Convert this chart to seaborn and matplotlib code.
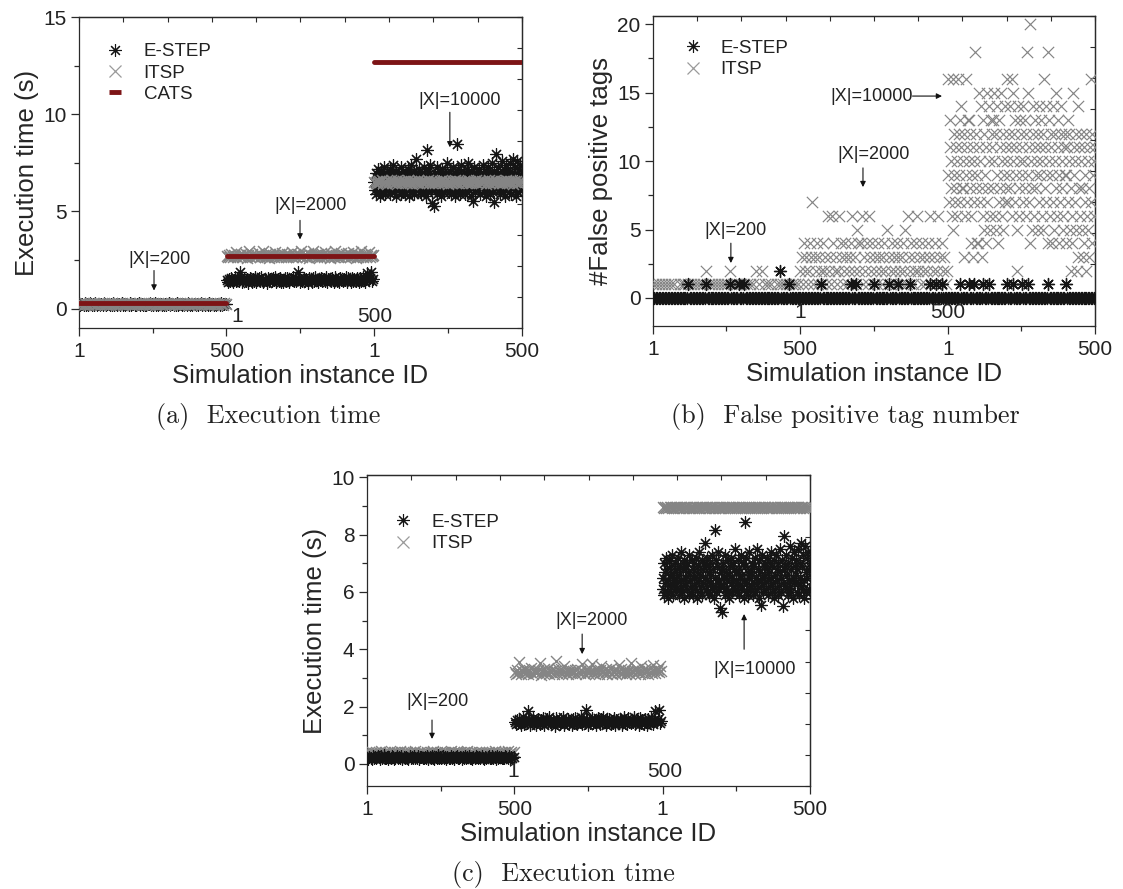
import numpy as np
import pandas as pd
import matplotlib
matplotlib.use("Agg")
import matplotlib.pyplot as plt
from matplotlib.lines import Line2D
import seaborn as sns

# ------------------------------------------------------------------
# Data: three problem sizes (|X| = 200, 2000, 10000), 500 simulation
# instances each, shown back to back on one x axis. Values are listed
# for every 2nd / 4th / 5th / 10th instance (the step is given per block).
# ------------------------------------------------------------------
SEG_LEN = 500
segment_sizes = ["|X|=200", "|X|=2000", "|X|=10000"]
x_tick_pos = [1, 500, 1001, 1500]
x_tick_labels = ["1", "500", "1", "500"]

# E-STEP execution time (s) -- same runs in panels (a) and (c)
estep_time_step = [4, 4, 2]
estep_time_200 = [
    0.21,0.18,0.25,0.22,0.16,0.28,0.2,0.24,0.19,0.27,0.23,0.17,0.26,0.21,0.3,0.19,0.22,0.25,0.18,0.24,0.2,0.27,0.23,0.16,0.22,
    0.26,0.19,0.24,0.21,0.29,0.18,0.23,0.2,0.25,0.22,0.17,0.27,0.21,0.24,0.19,0.26,0.22,0.2,0.28,0.18,0.23,0.25,0.21,0.19,0.24,
    0.22,0.27,0.17,0.23,0.2,0.26,0.21,0.18,0.25,0.22,0.3,0.19,0.24,0.21,0.27,0.2,0.23,0.16,0.25,0.22,0.19,0.26,0.21,0.24,0.18,
    0.23,0.28,0.2,0.22,0.25,0.17,0.24,0.21,0.27,0.19,0.23,0.26,0.2,0.22,0.18,0.25,0.21,0.29,0.23,0.19,0.24,0.2,0.26,0.22,0.17,
    0.25,0.21,0.23,0.28,0.19,0.22,0.26,0.2,0.24,0.18,0.27,0.21,0.23,0.25,0.2,0.22,0.19,0.26,0.24,0.21,0.28,0.18,0.23,0.22,0.25]
estep_time_2000 = [
    1.45,1.38,1.52,1.41,1.58,1.35,1.47,1.62,1.4,1.5,1.43,1.86,1.55,1.37,1.48,1.6,1.42,1.51,1.34,1.46,1.57,1.39,1.53,1.44,1.61,
    1.36,1.49,1.56,1.41,1.63,1.45,1.38,1.54,1.47,1.33,1.59,1.43,1.5,1.4,1.55,1.46,1.64,1.37,1.52,1.44,1.58,1.39,1.48,1.35,1.56,
    1.42,1.6,1.47,1.38,1.53,1.45,1.62,1.4,1.51,1.44,1.88,1.57,1.36,1.49,1.43,1.59,1.41,1.54,1.46,1.34,1.6,1.48,1.39,1.55,1.42,
    1.63,1.45,1.37,1.52,1.47,1.58,1.4,1.5,1.44,1.61,1.36,1.53,1.46,1.41,1.57,1.49,1.35,1.62,1.43,1.54,1.38,1.59,1.47,1.42,1.51,
    1.45,1.64,1.39,1.56,1.48,1.37,1.6,1.44,1.52,1.4,1.58,1.46,1.35,1.55,1.43,1.61,1.49,1.38,1.53,1.84,1.47,1.57,1.87,1.42,1.5]
estep_time_10000 = [
    6.5,6.1,7.0,5.9,6.7,6.3,7.2,6.0,6.8,6.4,5.8,7.1,6.2,6.6,6.9,6.0,7.3,6.4,5.9,6.7,6.2,7.0,6.5,6.1,6.8,
    6.3,7.2,5.9,6.6,6.9,6.1,7.4,6.4,6.0,6.8,6.2,7.1,5.8,6.5,6.9,6.3,7.0,6.1,6.7,5.9,7.3,6.4,6.6,6.0,7.1,
    6.2,6.8,5.9,7.0,6.5,6.1,7.2,6.3,6.7,5.8,6.9,6.4,7.4,6.0,6.6,6.2,7.1,5.9,6.8,6.3,7.0,7.7,6.5,6.1,6.9,
    6.4,7.2,6.0,6.7,5.9,7.0,6.3,6.6,7.3,6.1,6.8,6.2,5.8,8.15,6.5,7.1,6.0,6.9,6.3,7.4,6.4,6.1,5.45,6.2,6.7,
    5.3,6.8,7.0,6.2,6.5,5.9,7.3,6.1,6.7,6.4,7.1,6.0,6.6,5.8,6.9,7.2,6.3,6.5,6.0,7.0,6.2,6.8,7.5,6.1,6.4,
    6.7,6.0,7.1,6.3,5.9,6.8,6.5,7.3,6.1,6.6,6.2,7.0,5.8,6.4,8.45,6.9,6.0,7.2,6.3,6.7,5.9,7.4,6.5,6.1,6.8,
    6.2,7.0,6.6,5.9,6.9,6.3,7.2,6.0,6.5,7.5,6.1,6.8,6.4,5.8,7.1,6.7,5.55,6.2,7.3,6.5,6.0,6.9,6.3,7.0,6.6,
    6.1,6.8,7.2,6.4,5.9,6.7,7.0,6.2,6.5,7.4,6.0,6.9,6.3,5.8,7.1,6.6,6.1,7.3,6.4,6.8,5.9,7.0,6.2,6.7,7.5,
    6.5,6.0,7.1,5.5,6.3,6.8,7.95,6.2,6.9,7.3,6.1,6.6,5.9,7.0,6.4,7.6,6.2,6.8,6.0,7.2,6.5,5.8,7.4,6.3,6.9,
    6.6,7.1,6.0,6.8,7.5,6.3,5.9,7.0,6.5,7.7,6.2,6.9,6.1,7.3,6.4,5.8,7.6,6.7,6.0,7.2,6.5,7.4,6.1,6.8,7.0]

# ITSP execution time (s), panel (a)
itsp_time_a_step = [4, 4, 4]
itsp_time_a_200 = [
    0.25,0.22,0.28,0.24,0.2,0.27,0.23,0.26,0.21,0.29,0.24,0.22,0.27,0.25,0.19,0.26,0.23,0.28,0.21,0.25,0.24,0.3,0.22,0.26,0.23,
    0.27,0.21,0.24,0.29,0.23,0.26,0.2,0.25,0.28,0.22,0.24,0.27,0.21,0.26,0.23,0.3,0.25,0.22,0.28,0.24,0.2,0.26,0.23,0.27,0.25,
    0.22,0.28,0.25,0.21,0.27,0.24,0.29,0.23,0.26,0.2,0.25,0.28,0.22,0.24,0.27,0.21,0.26,0.3,0.23,0.25,0.22,0.27,0.24,0.19,0.26,
    0.24,0.26,0.21,0.28,0.23,0.25,0.27,0.22,0.3,0.24,0.2,0.26,0.23,0.28,0.25,0.22,0.27,0.24,0.21,0.29,0.25,0.23,0.26,0.22,0.28,
    0.26,0.23,0.29,0.21,0.25,0.27,0.22,0.24,0.28,0.2,0.26,0.23,0.25,0.3,0.22,0.27,0.24,0.21,0.26,0.28,0.23,0.25,0.2,0.27,0.24]
itsp_time_a_2000 = [
    2.72,2.65,2.78,2.68,2.81,2.63,2.74,2.7,2.92,2.66,2.77,2.69,2.83,2.64,2.75,2.71,2.8,2.62,2.76,2.95,2.67,2.79,2.7,2.73,2.65,
    2.78,2.69,2.84,2.63,2.74,2.71,2.97,2.66,2.8,2.68,2.75,2.62,2.82,2.7,2.77,2.64,2.93,2.72,2.67,2.79,2.73,2.65,2.86,2.69,2.76,
    2.68,2.81,2.64,2.75,2.7,2.9,2.66,2.78,2.72,2.63,2.83,2.69,2.76,2.96,2.67,2.74,2.8,2.65,2.71,2.85,2.62,2.77,2.7,2.94,2.73,
    2.75,2.63,2.8,2.7,2.67,2.84,2.72,2.65,2.91,2.78,2.69,2.74,2.62,2.82,2.71,2.76,2.66,2.98,2.73,2.68,2.79,2.64,2.85,2.7,2.77,
    2.66,2.79,2.71,2.87,2.64,2.75,2.69,2.93,2.73,2.62,2.81,2.68,2.77,2.7,2.95,2.65,2.74,2.8,2.67,2.72,2.89,2.63,2.76,2.71,2.78]
itsp_time_a_10000 = [
    6.52,6.47,6.58,6.44,6.55,6.5,6.61,6.46,6.53,6.49,6.57,6.43,6.54,6.51,6.6,6.45,6.56,6.48,6.52,6.62,6.46,6.55,6.5,6.44,6.58,
    6.49,6.56,6.45,6.6,6.51,6.47,6.54,6.42,6.58,6.5,6.53,6.46,6.61,6.48,6.55,6.52,6.44,6.57,6.49,6.53,6.6,6.47,6.51,6.56,6.45,
    6.54,6.48,6.59,6.5,6.45,6.57,6.52,6.63,6.46,6.55,6.49,6.53,6.43,6.58,6.51,6.47,6.56,6.5,6.61,6.44,6.54,6.48,6.57,6.52,6.46,
    6.5,6.58,6.46,6.53,6.61,6.48,6.55,6.44,6.52,6.57,6.49,6.6,6.47,6.54,6.5,6.45,6.59,6.51,6.56,6.43,6.53,6.49,6.62,6.47,6.55,
    6.47,6.53,6.6,6.49,6.56,6.44,6.51,6.58,6.46,6.54,6.5,6.62,6.45,6.55,6.48,6.57,6.52,6.43,6.59,6.5,6.56,6.46,6.53,6.61,6.49]

# CATS execution time (s), one value per problem size
cats_time = [0.28, 2.72, 12.7]

# ITSP execution time (s), panel (c)
itsp_time_c_step = [4, 4, 4]
itsp_time_c_200 = [
    0.38,0.34,0.41,0.36,0.43,0.33,0.39,0.37,0.42,0.35,0.4,0.36,0.44,0.34,0.38,0.41,0.35,0.39,0.37,0.43,0.33,0.4,0.36,0.42,0.38,
    0.41,0.35,0.39,0.44,0.36,0.38,0.33,0.42,0.37,0.4,0.34,0.43,0.38,0.36,0.41,0.35,0.45,0.39,0.34,0.37,0.42,0.36,0.4,0.38,0.35,
    0.36,0.42,0.38,0.34,0.4,0.37,0.44,0.35,0.39,0.41,0.33,0.38,0.43,0.36,0.4,0.35,0.42,0.37,0.39,0.34,0.41,0.44,0.36,0.38,0.4,
    0.39,0.37,0.43,0.35,0.41,0.34,0.38,0.42,0.36,0.4,0.44,0.35,0.37,0.41,0.33,0.39,0.36,0.43,0.38,0.35,0.4,0.37,0.42,0.34,0.39,
    0.35,0.4,0.37,0.42,0.34,0.39,0.41,0.36,0.44,0.38,0.35,0.4,0.37,0.33,0.42,0.39,0.36,0.41,0.38,0.45,0.34,0.37,0.4,0.36,0.43]
itsp_time_c_2000 = [
    3.22,3.15,3.28,3.18,3.55,3.12,3.25,3.2,3.31,3.16,3.24,3.13,3.27,3.19,3.33,3.14,3.23,3.29,3.17,3.21,3.26,3.52,3.11,3.24,3.18,
    3.3,3.16,3.22,3.35,3.14,3.25,3.19,3.28,3.12,3.23,3.58,3.17,3.26,3.2,3.32,3.15,3.24,3.42,3.18,3.27,3.13,3.21,3.29,3.16,3.25,
    3.19,3.27,3.14,3.31,3.22,3.17,3.26,3.5,3.2,3.13,3.29,3.24,3.16,3.33,3.21,3.48,3.18,3.25,3.12,3.3,3.23,3.15,3.28,3.4,3.2,
    3.24,3.17,3.3,3.13,3.26,3.21,3.34,3.15,3.23,3.19,3.28,3.12,3.25,3.44,3.18,3.31,3.16,3.22,3.27,3.14,3.2,3.29,3.17,3.53,3.24,
    3.21,3.28,3.15,3.32,3.19,3.25,3.13,3.42,3.23,3.17,3.3,3.2,3.26,3.14,3.34,3.22,3.18,3.45,3.27,3.16,3.24,3.31,3.19,3.4,3.23]
itsp_time_c_10000 = [
    8.95,8.93,8.97,8.94,8.96,8.92,8.98,8.95,8.93,8.96,8.94,8.97,8.95,8.92,8.96,8.94,8.98,8.93,8.95,8.97,8.94,8.96,8.92,8.95,8.97,
    8.94,8.96,8.93,8.97,8.95,8.92,8.96,8.94,8.98,8.95,8.93,8.96,8.94,8.97,8.92,8.95,8.96,8.93,8.97,8.94,8.95,8.98,8.93,8.96,8.94,
    8.96,8.94,8.98,8.93,8.95,8.97,8.92,8.96,8.94,8.95,8.97,8.93,8.96,8.94,8.98,8.95,8.92,8.96,8.94,8.97,8.93,8.95,8.96,8.94,8.97,
    8.93,8.97,8.95,8.92,8.96,8.94,8.98,8.95,8.93,8.96,8.94,8.97,8.95,8.92,8.96,8.93,8.97,8.94,8.96,8.95,8.98,8.93,8.96,8.94,8.95,
    8.97,8.94,8.96,8.93,8.95,8.98,8.94,8.96,8.92,8.95,8.97,8.93,8.96,8.94,8.97,8.95,8.93,8.96,8.98,8.94,8.95,8.97,8.93,8.96,8.94]

# Number of false positive tags, panel (b)
estep_fp_step = [5, 5, 5]
estep_fp_200 = [
    0,0,0,0,0,0,0,0,0,0, 0,0,0,0,0,0,0,0,0,0, 0,0,0,0,1,0,0,0,0,0, 0,0,0,0,0,0,1,0,0,0,
    0,0,0,0,0,0,0,0,0,0, 0,0,1,0,0,0,0,0,1,0, 0,0,1,0,0,0,0,0,0,0, 0,0,0,0,0,0,0,0,0,0,
    0,0,0,0,0,0,2,0,0,0, 0,0,1,0,0,0,0,0,0,0]
estep_fp_2000 = [
    0,0,0,0,0,0,0,0,0,0, 0,0,0,0,1,0,0,0,0,0, 0,0,0,0,0,0,0,0,0,0, 0,0,0,0,1,0,0,0,1,0,
    0,0,0,0,0,0,0,0,0,0, 1,0,0,0,0,0,0,0,0,0, 1,0,0,0,0,0,1,0,0,0, 0,0,0,0,1,0,0,0,0,0,
    0,0,0,0,0,0,0,0,1,0, 0,0,1,0,0,0,1,0,0,0]
estep_fp_10000 = [
    0,0,0,0,0,0,0,0,1,0, 0,0,0,0,1,0,0,0,1,0, 0,0,0,0,1,0,0,0,1,0, 0,0,0,0,0,0,0,0,0,0,
    1,0,0,0,1,0,0,0,0,0, 1,0,0,0,1,0,0,0,0,0, 0,0,0,0,0,0,0,0,1,0, 0,0,0,0,0,0,0,0,0,0,
    1,0,0,0,0,0,0,0,0,0, 0,0,0,0,0,0,0,0,0,0]

itsp_fp_step = [10, 4, 2]
itsp_fp_200 = [1,1,1,1,1,1,1,1,0,1, 1,1,1,1,1,1,1,1,2,1, 1,1,1,1,1,1,2,1,1,1,
               1,1,1,1,1,2,1,2,1,1, 1,0,1,1,1,1,1,1,1,1]
itsp_fp_2000 = [
    2,3,1,4,2,3,1,2,4,3, 7,1,3,2,4,1,3,2,1,4, 2,3,1,6,2,
    3,1,6,4,2,3,1,2,6,4, 3,1,2,4,3,1,2,3,4,6, 2,3,1,5,4,
    2,4,6,1,3,2,4,1,6,3, 2,4,1,3,2,1,4,3,2,1, 3,4,2,5,1,
    3,1,2,4,3,2,1,4,3,2, 1,3,4,2,5,1,6,3,2,4, 1,3,2,4,6,
    2,3,1,4,2,3,1,2,4,3, 6,1,2,3,4,1,2,6,3,1, 4,2,3,1,2]
itsp_fp_10000 = [
    9,16,7,11,13,8,10,6,16,5, 12,9,7,11,8,10,6,16,12,9, 13,7,14,11,8,
    10,8,3,12,6,16,9,11,7,13, 13,10,8,12,4,6,9,11,3,7, 10,18,12,8,4,
    9,4,11,15,7,10,14,8,3,13, 6,5,12,9,4,11,7,15,8,10, 14,6,5,13,12,
    11,13,8,10,15,6,5,12,14,9, 4,7,13,11,8,15,10,6,5,12, 9,14,7,11,8,
    10,16,7,12,9,14,8,11,16,6, 10,15,12,7,13,9,11,5,2,14, 8,6,13,10,12,
    9,11,7,14,10,8,13,12,6,18, 15,9,11,7,4,20,10,8,5,12, 14,6,11,13,9,
    8,10,5,12,14,7,11,9,13,6, 10,5,12,16,8,11,14,7,9,18, 4,10,13,6,12,
    11,4,9,14,7,5,12,10,15,8, 6,11,13,9,4,7,12,14,10,8, 6,5,11,9,12,
    9,4,11,13,7,10,12,5,2,8, 4,6,15,11,9,10,7,5,12,2, 14,3,8,11,6,
    10,12,5,8,3,11,4,7,9,2, 12,6,10,5,8,3,11,16,7,12, 4,9,6,10,11]


def series_frame(blocks, steps):
    """Lay the three size blocks side by side on one instance axis."""
    parts = []
    for k, (vals, step) in enumerate(zip(blocks, steps)):
        ids = np.arange(1, SEG_LEN + 1, step)
        assert len(ids) == len(vals), (k, len(ids), len(vals))
        parts.append(pd.DataFrame({"x": k * SEG_LEN + ids, "y": vals}))
    return pd.concat(parts, ignore_index=True)


estep_time = series_frame([estep_time_200, estep_time_2000, estep_time_10000], estep_time_step)
itsp_time_a = series_frame([itsp_time_a_200, itsp_time_a_2000, itsp_time_a_10000], itsp_time_a_step)
itsp_time_c = series_frame([itsp_time_c_200, itsp_time_c_2000, itsp_time_c_10000], itsp_time_c_step)
estep_fp = series_frame([estep_fp_200, estep_fp_2000, estep_fp_10000], estep_fp_step)
itsp_fp = series_frame([itsp_fp_200, itsp_fp_2000, itsp_fp_10000], itsp_fp_step)

# ------------------------------------------------------------------
# Style
# ------------------------------------------------------------------
sns.set_style("ticks")
plt.rcParams["font.family"] = ["Liberation Sans", "DejaVu Sans"]
plt.rcParams["axes.linewidth"] = 0.9
plt.rcParams["text.color"] = "#222222"
plt.rcParams["axes.edgecolor"] = "#2a2a2a"
plt.rcParams["xtick.color"] = "#2a2a2a"
plt.rcParams["ytick.color"] = "#2a2a2a"
plt.rcParams["xtick.labelcolor"] = "#222222"
plt.rcParams["ytick.labelcolor"] = "#222222"

ESTEP_COLOR = "#151515"
ITSP_COLOR = "#858585"
ITSP_LEG_COLOR = "#9a9a9a"
CATS_COLOR = "#7d1416"
ASTERISK = (8, 2, 0)

TICK_FS = 15
LABEL_FS = 18.5
LEG_FS = 13.5
NOTE_FS = 13
CAP_FS = 18.8

fig = plt.figure(figsize=(11.23, 8.89), dpi=100)
ax_a = fig.add_axes([0.0703, 0.6310, 0.3945, 0.3498])
ax_b = fig.add_axes([0.5815, 0.6333, 0.3936, 0.3487])
ax_c = fig.add_axes([0.3268, 0.1159, 0.3945, 0.3498])


def style_axes(ax, ylim, major, minor, ylabel, inner_marks):
    ax.set_xlim(1, 3 * SEG_LEN)
    ax.set_ylim(*ylim)
    ax.set_xticks(x_tick_pos)
    ax.set_xticklabels(x_tick_labels)
    ax.set_xticks([250, 750, 1250], minor=True)
    ax.set_yticks(major)
    ax.set_yticks(minor, minor=True)
    ax.tick_params(which="major", direction="out", length=6, width=0.9,
                   labelsize=TICK_FS, pad=3)
    ax.tick_params(which="minor", direction="out", length=3.5, width=0.9)
    ax.tick_params(axis="x", which="major", pad=4)
    for s in ax.spines.values():
        s.set_visible(True)
    ax.set_xlabel("Simulation instance ID", fontsize=LABEL_FS, labelpad=2)
    ax.set_ylabel(ylabel, fontsize=LABEL_FS, labelpad=3)
    # inward ticks on the mirrored top/right axes
    top = ax.secondary_xaxis("top")
    top.set_xticks(np.linspace(1, 3 * SEG_LEN, 11))
    top.tick_params(direction="in", length=3.5, width=0.8, labeltop=False)
    right = ax.secondary_yaxis("right")
    right.set_yticks(np.linspace(ylim[0], ylim[1], 11))
    right.tick_params(direction="in", length=3.5, width=0.8, labelright=False)
    # start / end labels of the middle block, drawn inside the frame
    for xpos, ypos, txt in inner_marks:
        ax.text(xpos, ypos, txt, fontsize=TICK_FS, ha="center", va="center")


def arrow_note(ax, text, text_xy, tail, head):
    ax.text(text_xy[0], text_xy[1], text, fontsize=NOTE_FS, ha="center", va="center")
    ax.annotate("", xy=head, xytext=tail,
                arrowprops=dict(arrowstyle="-|>", color="#111111", lw=0.8,
                                mutation_scale=8, shrinkA=0, shrinkB=0))


def asterisks(ax, df, lw=0.85):
    sns.scatterplot(data=df, x="x", y="y", marker=ASTERISK, color=ESTEP_COLOR,
                    s=74, linewidth=lw, ax=ax, legend=False, zorder=3)


def crosses(ax, df, size=62, lw=0.85):
    sns.scatterplot(data=df, x="x", y="y", marker="x", color=ITSP_COLOR,
                    s=size, linewidth=lw, ax=ax, legend=False, zorder=3)


h_estep = Line2D([], [], marker=ASTERISK, color=ESTEP_COLOR, ls="none",
                 markersize=9, markeredgewidth=0.8)
h_itsp = Line2D([], [], marker="x", color=ITSP_LEG_COLOR, ls="none",
                markersize=8.5, markeredgewidth=0.9)
h_cats = Line2D([], [], marker="_", color=CATS_COLOR, ls="none",
                markersize=9, markeredgewidth=3.5)
leg_kw = dict(loc="upper left", frameon=False, fontsize=LEG_FS, borderpad=0,
              borderaxespad=0, handlelength=1.2, handletextpad=0.9,
              labelspacing=0.22)

# ---------------- (a) execution time, three methods ----------------
asterisks(ax_a, estep_time)
crosses(ax_a, itsp_time_a, lw=1.1)
for k, v in enumerate(cats_time):
    ax_a.plot([k * SEG_LEN + 1, (k + 1) * SEG_LEN], [v, v], color=CATS_COLOR,
              lw=3.5, solid_capstyle="round", zorder=4)
style_axes(ax_a, (-1, 15), [0, 5, 10, 15], [2.5, 7.5, 12.5],
           "Execution time (s)", [(536, -0.42, "1"), (1002, -0.42, "500")])
arrow_note(ax_a, segment_sizes[0], (275, 2.53), (255, 1.96), (255, 0.93))
arrow_note(ax_a, segment_sizes[1], (783, 5.3), (749, 4.54), (749, 3.56))
arrow_note(ax_a, segment_sizes[2], (1290, 10.7), (1256, 10.1), (1256, 8.3))
ax_a.legend([h_estep, h_itsp, h_cats], ["E-STEP", "ITSP", "CATS"],
            bbox_to_anchor=(0.057, 0.916), **leg_kw)

# ---------------- (b) false positive tags ----------------
crosses(ax_b, itsp_fp, size=66)
asterisks(ax_b, estep_fp, lw=1.0)
style_axes(ax_b, (-2.05, 20.6), [0, 5, 10, 15, 20],
           [2.5, 7.5, 12.5, 17.5], "#False positive tags",
           [(500, -1.1, "1"), (1001, -1.1, "500")])
arrow_note(ax_b, segment_sizes[0], (282, 4.96), (265, 4.0), (265, 2.55))
arrow_note(ax_b, segment_sizes[1], (750, 10.5), (713, 9.5), (713, 8.1))
ax_b.text(881, 14.75, segment_sizes[2], fontsize=NOTE_FS, ha="right", va="center")
ax_b.annotate("", xy=(981, 14.75), xytext=(881, 14.75),
              arrowprops=dict(arrowstyle="-|>", color="#111111", lw=0.8,
                              mutation_scale=8, shrinkA=0, shrinkB=0))
ax_b.legend([h_estep, h_itsp], ["E-STEP", "ITSP"],
            bbox_to_anchor=(0.064, 0.923), **leg_kw)

# ---------------- (c) execution time, E-STEP vs ITSP ----------------
crosses(ax_c, itsp_time_c, lw=1.0)
asterisks(ax_c, estep_time)
style_axes(ax_c, (-0.77, 10.08), [0, 2, 4, 6, 8, 10], [1, 3, 5, 7, 9],
           "Execution time (s)", [(495, -0.28, "1"), (1009, -0.28, "500")])
arrow_note(ax_c, segment_sizes[0], (238, 2.16), (221, 1.53), (221, 0.87))
arrow_note(ax_c, segment_sizes[1], (762, 5.02), (729, 4.53), (729, 3.83))
arrow_note(ax_c, segment_sizes[2], (1314, 3.31), (1277, 4.0), (1277, 5.23))
ax_c.legend([h_estep, h_itsp], ["E-STEP", "ITSP"],
            bbox_to_anchor=(0.056, 0.875), **leg_kw)

# ---------------- sub-figure captions ----------------
W, H = 1123, 889
for (px, py), cap in [((268, 417), "(a)  Execution time"),
                      ((845, 417), "(b)  False positive tag number"),
                      ((563, 874), "(c)  Execution time")]:
    fig.text(px / W, 1 - py / H, cap, fontsize=CAP_FS, family="cmr10",
             ha="center", va="center")

fig.savefig("out.png", dpi=100)
